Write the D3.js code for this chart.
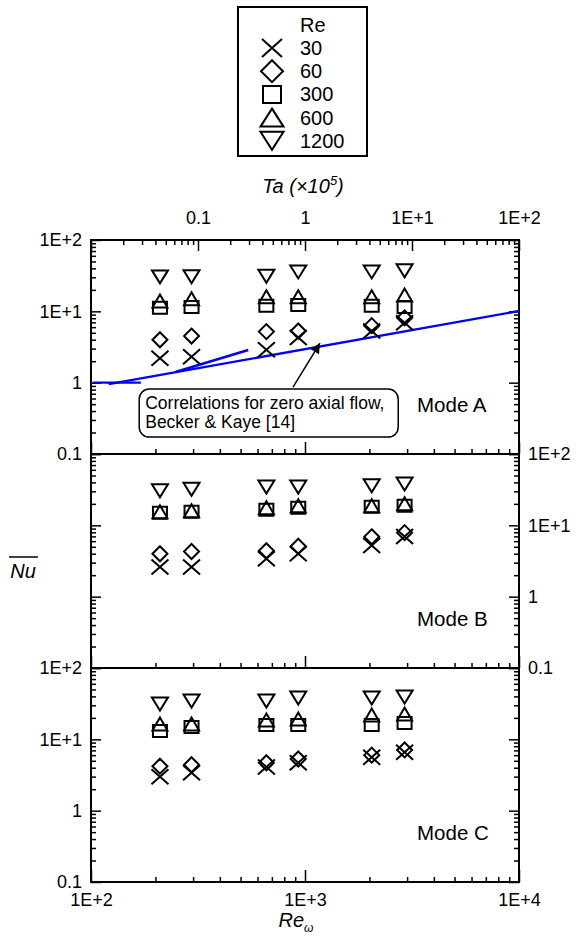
<!DOCTYPE html>
<html>
<head>
<meta charset="utf-8">
<script src="https://cdn.jsdelivr.net/npm/d3@7"></script>
<style>
  body { margin: 0; background: #fff; }
  text { font-family: "Liberation Sans", Arial, Helvetica, sans-serif; fill: #000; }
</style>
</head>
<body>
<svg id="chart" width="580" height="943"></svg>
<script>
// Rotation Reynolds numbers of the measured cases
const reOmega = [210, 295, 660, 930, 2050, 2920];

// Axial Reynolds numbers (legend entries) and their marker shapes
const reAxial = ["30", "60", "300", "600", "1200"];
const markerKinds = ["cross", "diamond", "square", "triangle", "triangleDown"];

// Mean Nusselt number, Mode A
const modeA_re30   = [2.2, 2.3, 2.9, 4.3, 5.3, 6.9];
const modeA_re60   = [4.0, 4.5, 5.2, 5.3, 6.3, 8.1];
const modeA_re300  = [11.2, 11.5, 12.0, 12.3, 12.0, 11.5];
const modeA_re600  = [14.0, 15.0, 16.0, 16.0, 16.0, 17.0];
const modeA_re1200 = [30.4, 30.5, 31.0, 35.7, 35.7, 37.0];

// Mean Nusselt number, Mode B
const modeB_re30   = [2.6, 2.6, 3.4, 4.0, 5.2, 7.0];
const modeB_re60   = [4.0, 4.3, 4.4, 5.1, 6.9, 7.9];
const modeB_re300  = [15.0, 15.5, 16.5, 17.7, 18.2, 18.8];
const modeB_re600  = [15.5, 16.0, 17.7, 18.8, 18.8, 20.0];
const modeB_re1200 = [30.5, 32.0, 34.5, 34.5, 35.8, 38.0];

// Mean Nusselt number, Mode C
const modeC_re30   = [3.0, 3.4, 4.1, 4.7, 5.6, 6.6];
const modeC_re60   = [4.2, 4.4, 4.7, 5.3, 6.0, 7.1];
const modeC_re300  = [13.1, 14.9, 15.9, 15.9, 15.9, 16.9];
const modeC_re600  = [16.4, 16.4, 18.7, 19.3, 21.9, 22.6];
const modeC_re1200 = [31.3, 34.5, 34.5, 37.9, 37.9, 39.2];

const modeNames = ["Mode A", "Mode B", "Mode C"];

// Zero-axial-flow correlation pieces (Becker & Kaye): [Re_omega], [Nu]
const corrFlatRe  = [102, 171];   const corrFlatNu  = [1.0, 1.0];
const corrMidRe   = [248, 543];   const corrMidNu   = [1.41, 2.87];
const corrHighRe  = [121, 10000]; const corrHighNu  = [0.955, 10.1];

// Annotation arrow (tail, head) in Re_omega / Nu of Mode A
const arrowRe = [879, 1175];
const arrowNu = [0.867, 3.59];

// Tick values and labels
const reTicks = [100, 1000, 10000];
const reTickLabels = ["1E+2", "1E+3", "1E+4"];
const taTicks = [0.1, 1, 10, 100];
const taTickLabels = ["0.1", "1", "1E+1", "1E+2"];
const nuTicks = [0.1, 1, 10, 100];
const nuTickLabels = ["0.1", "1", "1E+1", "1E+2"];

const modes = [
  [modeA_re30, modeA_re60, modeA_re300, modeA_re600, modeA_re1200],
  [modeB_re30, modeB_re60, modeB_re300, modeB_re600, modeB_re1200],
  [modeC_re30, modeC_re60, modeC_re300, modeC_re600, modeC_re1200]
];

const svg = d3.select("#chart");
const left = 91, right = 519, top0 = 240, panelH = 214;

const x = d3.scaleLog().domain([100, 10000]).range([left, right]);
const xTa = d3.scaleLog().domain([0.01, 100]).range([left, right]);
const yScales = modes.map((_, i) =>
  d3.scaleLog().domain([0.1, 100]).range([top0 + (i + 1) * panelH, top0 + i * panelH]));

function minorTicks(lo, hi) {
  const out = [];
  for (let e = Math.round(Math.log10(lo)); e < Math.round(Math.log10(hi)); e++)
    for (let k = 2; k <= 9; k++) out.push(k * Math.pow(10, e));
  return out;
}
function majorTicks(lo, hi) {
  const out = [];
  for (let e = Math.round(Math.log10(lo)); e <= Math.round(Math.log10(hi)); e++) out.push(Math.pow(10, e));
  return out;
}
const labelOf = (vals, labels) => v => {
  const i = vals.findIndex(t => Math.abs(t - v) / v < 1e-6);
  return i >= 0 ? labels[i] : "";
};

function styleAxis(g, fontSize) {
  g.select(".domain").remove();
  g.selectAll(".tick line").attr("stroke", "#000").attr("stroke-width", 1.5);
  g.selectAll(".tick text").attr("font-size", fontSize).attr("fill", "#000")
    .style("font-family", '"Liberation Sans", Arial, sans-serif');
}

const tickFont = 18;

// Top axis: Ta (x10^5), ticks pointing into panel A
{
  const g = svg.append("g").attr("transform", `translate(0,${top0})`);
  g.call(d3.axisTop(xTa).tickValues(minorTicks(0.01, 100)).tickFormat("").tickSizeInner(-5).tickSizeOuter(0));
  styleAxis(g, tickFont);
  const g2 = svg.append("g").attr("transform", `translate(0,${top0})`);
  g2.call(d3.axisTop(xTa).tickValues(majorTicks(0.01, 100)).tickFormat(labelOf(taTicks, taTickLabels))
    .tickSizeInner(-11).tickSizeOuter(0).tickPadding(16));
  styleAxis(g2, tickFont);
}

// Re_omega ticks along the bottom of each panel, pointing up
yScales.forEach((y, i) => {
  const yb = top0 + (i + 1) * panelH;
  const g = svg.append("g").attr("transform", `translate(0,${yb})`);
  g.call(d3.axisBottom(x).tickValues(minorTicks(100, 10000)).tickFormat("").tickSizeInner(-5).tickSizeOuter(0));
  styleAxis(g, tickFont);
  const g2 = svg.append("g").attr("transform", `translate(0,${yb})`);
  g2.call(d3.axisBottom(x).tickValues(majorTicks(100, 10000))
    .tickFormat(i === 2 ? labelOf(reTicks, reTickLabels) : "")
    .tickSizeInner(-12).tickSizeOuter(0).tickPadding(11));
  styleAxis(g2, tickFont);
});

// Nu ticks on both sides of each panel; labels left for A and C, right for B
yScales.forEach((y, i) => {
  const labelSide = i === 1 ? "right" : "left";
  [["left", left], ["right", right]].forEach(([side, xp]) => {
    const mk = side === "left" ? d3.axisLeft : d3.axisRight;
    const g = svg.append("g").attr("transform", `translate(${xp},0)`);
    g.call(mk(y).tickValues(minorTicks(0.1, 100)).tickFormat("").tickSizeInner(-5).tickSizeOuter(0));
    styleAxis(g, tickFont);
    const g2 = svg.append("g").attr("transform", `translate(${xp},0)`);
    g2.call(mk(y).tickValues(majorTicks(0.1, 100))
      .tickFormat(side === labelSide ? labelOf(nuTicks, nuTickLabels) : "")
      .tickSizeInner(-10).tickSizeOuter(0).tickPadding(9));
    styleAxis(g2, tickFont);
  });
});

// Panel frames
yScales.forEach((y, i) => {
  svg.append("rect")
    .attr("x", left).attr("y", top0 + i * panelH)
    .attr("width", right - left).attr("height", panelH)
    .attr("fill", "none").attr("stroke", "#000").attr("stroke-width", 2);
});

// Correlation lines (Mode A)
const yA = yScales[0];
const corrLine = d3.line().x(d => x(d[0])).y(d => yA(d[1]));
[[corrFlatRe, corrFlatNu], [corrMidRe, corrMidNu], [corrHighRe, corrHighNu]].forEach(([r, n]) => {
  svg.append("path")
    .attr("d", corrLine(d3.zip(r, n)))
    .attr("fill", "none").attr("stroke", "#0000f0").attr("stroke-width", 2.4);
});

// Marker shapes
function markerPath(kind, w, h) {
  const a = w / 2, b = h / 2;
  switch (kind) {
    case "cross": return `M${-a},${-b}L${a},${b}M${-a},${b}L${a},${-b}`;
    case "diamond": return `M0,${-b}L${a},0L0,${b}L${-a},0Z`;
    case "square": return `M${-a},${-b}H${a}V${b}H${-a}Z`;
    case "triangle": return `M0,${-b}L${a},${b}L${-a},${b}Z`;
    case "triangleDown": return `M${-a},${-b}L${a},${-b}L0,${b}Z`;
  }
}
const dataSize = { cross: [17, 15], diamond: [15, 15], square: [14, 12], triangle: [15, 13], triangleDown: [16, 13] };
const legendSize = { cross: [20, 18], diamond: [22, 22], square: [18, 17], triangle: [23, 18], triangleDown: [23, 18] };

modes.forEach((series, i) => {
  const y = yScales[i];
  series.forEach((vals, s) => {
    const kind = markerKinds[s];
    const [w, h] = dataSize[kind];
    svg.append("g").selectAll("path")
      .data(d3.zip(reOmega, vals))
      .join("path")
      .attr("transform", d => `translate(${x(d[0])},${y(d[1])})`)
      .attr("d", markerPath(kind, w, h))
      .attr("fill", "none").attr("stroke", "#000").attr("stroke-width", 2);
  });
  svg.append("text")
    .attr("x", 417).attr("y", y(0.39))
    .attr("font-size", 20.5).text(modeNames[i]);
});

// Annotation: arrow and rounded box
const ax0 = x(arrowRe[0]), ay0 = yA(arrowNu[0]), ax1 = x(arrowRe[1]), ay1 = yA(arrowNu[1]);
svg.append("defs").append("marker")
  .attr("id", "head").attr("viewBox", "0 0 10 10").attr("refX", 10).attr("refY", 5)
  .attr("markerWidth", 12).attr("markerHeight", 10).attr("markerUnits", "userSpaceOnUse")
  .attr("orient", "auto")
  .append("path").attr("d", "M0,0L10,5L0,10Z").attr("fill", "#000");
svg.append("line")
  .attr("x1", ax0).attr("y1", ay0).attr("x2", ax1).attr("y2", ay1)
  .attr("stroke", "#000").attr("stroke-width", 1.5).attr("marker-end", "url(#head)");

const boxX = x(168), boxY = ay0 + 2;
svg.append("rect")
  .attr("x", boxX).attr("y", boxY).attr("width", 259).attr("height", 48)
  .attr("rx", 10).attr("ry", 10)
  .attr("fill", "#fff").attr("stroke", "#000").attr("stroke-width", 1.5);
svg.append("text").attr("x", boxX + 6).attr("y", boxY + 20).attr("font-size", 17.5)
  .text("Correlations for zero axial flow,");
svg.append("text").attr("x", boxX + 6).attr("y", boxY + 39).attr("font-size", 17.5)
  .text("Becker & Kaye [14]");

// Legend
const lg = svg.append("g");
lg.append("rect").attr("x", 238).attr("y", 7).attr("width", 129).attr("height", 149)
  .attr("fill", "#fff").attr("stroke", "#000").attr("stroke-width", 2);
lg.append("text").attr("x", 300).attr("y", 32).attr("font-size", 20).text("Re");
reAxial.forEach((label, k) => {
  const cy = 48 + k * 23.2;
  const kind = markerKinds[k];
  const [w, h] = legendSize[kind];
  lg.append("path").attr("transform", `translate(272,${cy})`)
    .attr("d", markerPath(kind, w, h))
    .attr("fill", "none").attr("stroke", "#000").attr("stroke-width", 2);
  lg.append("text").attr("x", 300).attr("y", cy + 7).attr("font-size", 20).text(label);
});

// Axis titles
const taTitle = svg.append("text").attr("x", 303).attr("y", 193)
  .attr("text-anchor", "middle").attr("font-size", 20).attr("font-style", "italic");
taTitle.append("tspan").text("Ta (\u00d710");
taTitle.append("tspan").attr("font-size", 13).attr("dy", -8).text("5");
taTitle.append("tspan").attr("dy", 8).text(")");

const reTitle = svg.append("text").attr("x", 296).attr("y", 927)
  .attr("text-anchor", "middle").attr("font-size", 20).attr("font-style", "italic");
reTitle.append("tspan").text("Re");
reTitle.append("tspan").attr("font-size", 12).attr("dy", 5).text("\u03c9");

svg.append("text").attr("x", 23).attr("y", 578).attr("text-anchor", "middle")
  .attr("font-size", 20).attr("font-style", "italic").text("Nu");
svg.append("line").attr("x1", 9).attr("x2", 38).attr("y1", 557).attr("y2", 557)
  .attr("stroke", "#000").attr("stroke-width", 1.5);
</script>
</body>
</html>
